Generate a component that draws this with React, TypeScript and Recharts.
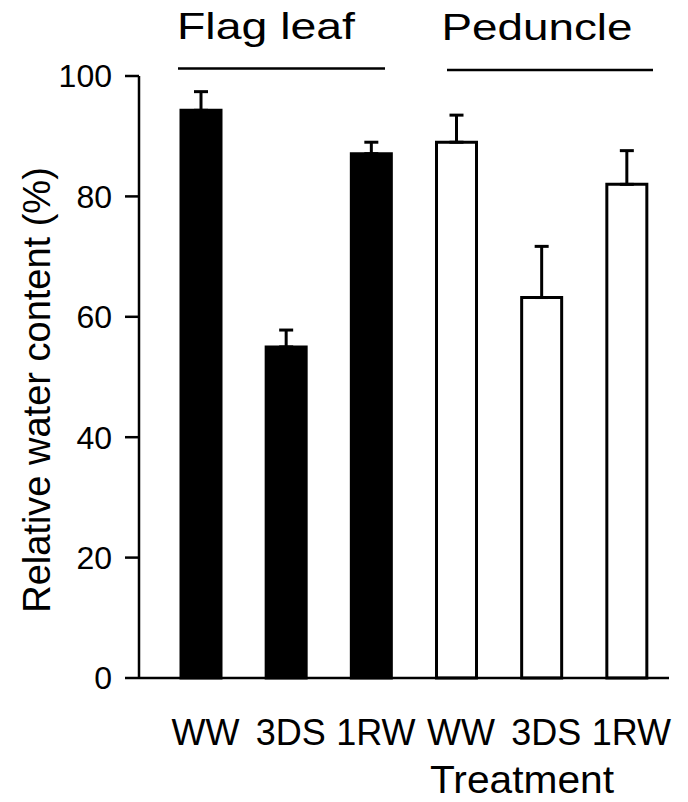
import { BarChart, Bar, XAxis, YAxis, ErrorBar, Cell } from "recharts";

const treatments = ["WW", "3DS", "1RW", "WW", "3DS", "1RW"];
const tissue = ["Flag leaf", "Flag leaf", "Flag leaf", "Peduncle", "Peduncle", "Peduncle"];
const rwc = [94.3, 55.0, 87.1, 89.0, 63.2, 82.0];
const rwcErr = [3.1, 2.8, 1.9, 4.5, 8.5, 5.6];
const yTicks = [0, 20, 40, 60, 80, 100];

const data = treatments.map((t, i) => ({
  id: i,
  treatment: t,
  tissue: tissue[i],
  value: rwc[i],
  err: [0, rwcErr[i]],
}));

const FONT = "'Liberation Sans', Arial, Helvetica, sans-serif";

export default function App() {
  return (
    <div style={{ position: "absolute", left: 0, top: 0, width: 688, height: 802, background: "#fff" }}>
      <BarChart
        width={688}
        height={802}
        data={data}
        margin={{ top: 76, right: 19, left: 0, bottom: 44 }}
      >
        <XAxis
          dataKey="id"
          type="category"
          tickFormatter={(v: any) => treatments[v]}
          padding={{ left: 19, right: 0 }}
          axisLine={{ stroke: "#000", strokeWidth: 2.5 }}
          tickLine={false}
          tickSize={0}
          tickMargin={41}
          height={80}
          tick={{ fontSize: 36, fill: "#000", fontFamily: FONT, dx: 5 }}
          interval={0}
        />
        <YAxis
          domain={[0, 100]}
          ticks={yTicks}
          width={139}
          axisLine={{ stroke: "#000", strokeWidth: 2.5 }}
          tickLine={{ stroke: "#000", strokeWidth: 2.5 }}
          tickSize={14}
          tickMargin={13}
          tick={{ fontSize: 32, fill: "#000", fontFamily: FONT }}
        />
        <Bar dataKey="value" barSize={40} stroke="#000" strokeWidth={3} isAnimationActive={false}>
          {data.map((d) => (
            <Cell key={d.id} fill={d.tissue === "Flag leaf" ? "#000" : "#fff"} />
          ))}
          <ErrorBar dataKey="err" width={7} stroke="#000" strokeWidth={3} direction="y" isAnimationActive={false} />
        </Bar>
      </BarChart>
      <svg
        width={688}
        height={802}
        style={{ position: "absolute", left: 0, top: 0, pointerEvents: "none" }}
        fontFamily={FONT}
      >
        <text x={266} y={39} fontSize={36} textAnchor="middle" textLength={178} lengthAdjust="spacingAndGlyphs">
          Flag leaf
        </text>
        <text x={537} y={40} fontSize={36} textAnchor="middle" textLength={191} lengthAdjust="spacingAndGlyphs">
          Peduncle
        </text>
        <line x1={178} x2={385} y1={68.5} y2={68.5} stroke="#000" strokeWidth={2.5} />
        <line x1={447} x2={653} y1={70} y2={70} stroke="#000" strokeWidth={2.5} />
        <text x={50} y={390} fontSize={38} textAnchor="middle" transform="rotate(-90 50 390)">
          Relative water content (%)
        </text>
        <text x={522} y={793} fontSize={38} textAnchor="middle" textLength={184} lengthAdjust="spacingAndGlyphs">
          Treatment
        </text>
      </svg>
    </div>
  );
}
